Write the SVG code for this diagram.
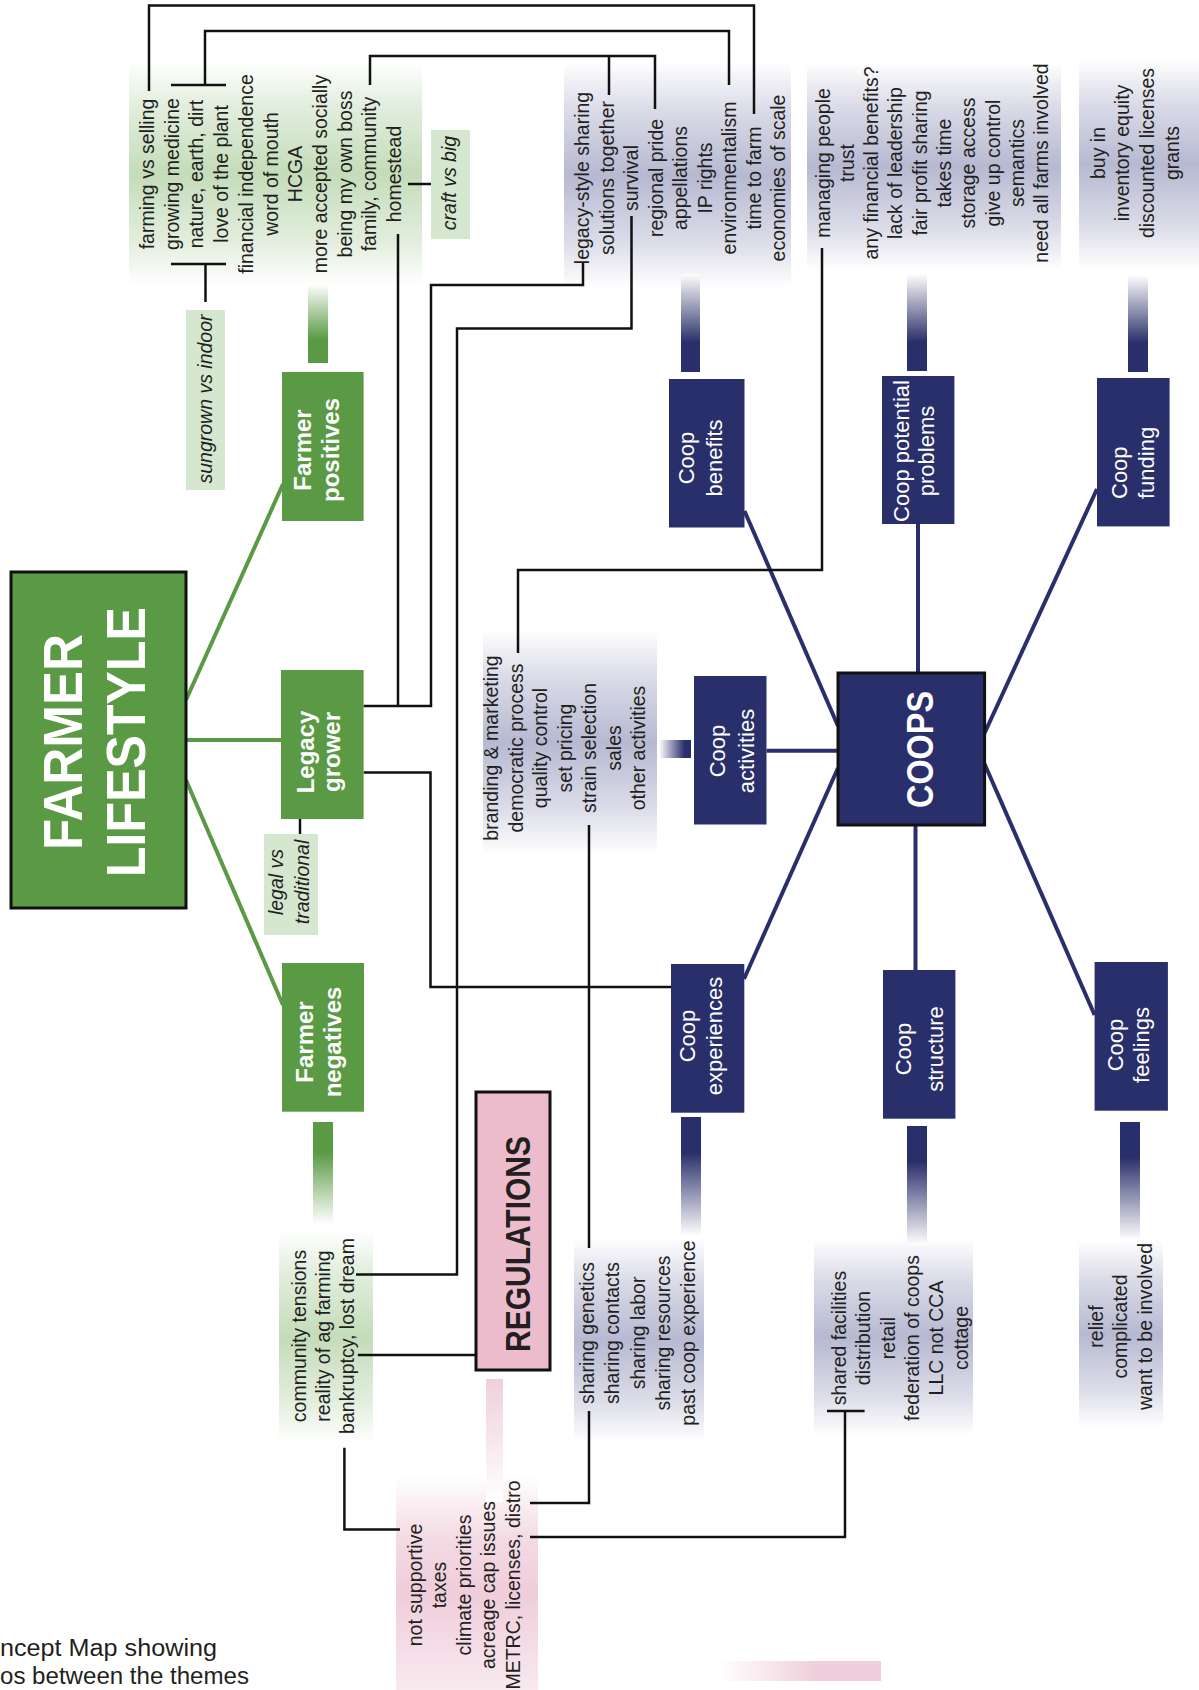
<svg xmlns="http://www.w3.org/2000/svg" width="1199" height="1690" viewBox="0 0 1199 1690">
<style>
.t{font-family:"Liberation Sans",Arial,sans-serif;font-size:19.5px;fill:#231f20;text-anchor:middle}
.it{font-style:italic}
.bx{font-family:"Liberation Sans",Arial,sans-serif;font-size:22px;fill:#ffffff;text-anchor:middle}
.bb{font-family:"Liberation Sans",Arial,sans-serif;font-size:24px;font-weight:bold;fill:#ffffff;text-anchor:middle}
.ln{fill:none;stroke:#111111;stroke-width:2.5}
.gl{stroke:#5a9a45;stroke-width:4;fill:none}
.nl{stroke:#292f6b;stroke-width:4;fill:none}
.gbox{fill:#5a9a45}
.nbox{fill:#292f6b}
.lab{fill:#d6e7d0}
</style>
<defs>
<linearGradient id="gPanel" x1="0" y1="0" x2="0" y2="1">
<stop offset="0" stop-color="#ffffff"/><stop offset="0.2" stop-color="#e2eedd"/><stop offset="0.5" stop-color="#c4dcba"/><stop offset="0.8" stop-color="#e2eedd"/><stop offset="1" stop-color="#ffffff"/>
</linearGradient>
<linearGradient id="nPanel" x1="0" y1="0" x2="0" y2="1">
<stop offset="0" stop-color="#ffffff"/><stop offset="0.2" stop-color="#dcdde9"/><stop offset="0.5" stop-color="#b6b9d1"/><stop offset="0.8" stop-color="#dcdde9"/><stop offset="1" stop-color="#ffffff"/>
</linearGradient>
<linearGradient id="pPanel" x1="0" y1="0" x2="0" y2="1">
<stop offset="0" stop-color="#ffffff"/><stop offset="0.3" stop-color="#f3dae3"/><stop offset="0.55" stop-color="#efcddb"/><stop offset="1" stop-color="#f8e9ef"/>
</linearGradient>
<linearGradient id="gUp" x1="0" y1="0" x2="0" y2="1">
<stop offset="0" stop-color="#ffffff"/><stop offset="0.7" stop-color="#5a9a45"/><stop offset="1" stop-color="#5a9a45"/>
</linearGradient>
<linearGradient id="gDown" x1="0" y1="0" x2="0" y2="1">
<stop offset="0" stop-color="#5a9a45"/><stop offset="0.3" stop-color="#5a9a45"/><stop offset="1" stop-color="#ffffff"/>
</linearGradient>
<linearGradient id="nUp" x1="0" y1="0" x2="0" y2="1">
<stop offset="0" stop-color="#ffffff"/><stop offset="0.7" stop-color="#292f6b"/><stop offset="1" stop-color="#292f6b"/>
</linearGradient>
<linearGradient id="nDown" x1="0" y1="0" x2="0" y2="1">
<stop offset="0" stop-color="#292f6b"/><stop offset="0.3" stop-color="#292f6b"/><stop offset="1" stop-color="#ffffff"/>
</linearGradient>
<linearGradient id="nRight" x1="0" y1="0" x2="1" y2="0">
<stop offset="0" stop-color="#ffffff"/><stop offset="0.8" stop-color="#292f6b"/><stop offset="1" stop-color="#292f6b"/>
</linearGradient>
<linearGradient id="pDown" x1="0" y1="0" x2="0" y2="1">
<stop offset="0" stop-color="#efcfdb"/><stop offset="1" stop-color="#ffffff"/>
</linearGradient>
<linearGradient id="pRight" x1="0" y1="0" x2="1" y2="0">
<stop offset="0" stop-color="#ffffff"/><stop offset="0.6" stop-color="#efcfdb"/><stop offset="1" stop-color="#efcfdb"/>
</linearGradient>
</defs>

<!-- panels and bars -->
<g id="panels">
<rect x="129" y="61" width="293" height="225" fill="url(#gPanel)"/>
<rect x="279" y="1230" width="94" height="214" fill="url(#gPanel)"/>
<rect x="564" y="62" width="227" height="226" fill="url(#nPanel)"/>
<rect x="807" y="62" width="254" height="209" fill="url(#nPanel)"/>
<rect x="1079" y="59" width="120" height="211" fill="url(#nPanel)"/>
<rect x="483" y="630" width="174" height="224" fill="url(#nPanel)"/>
<rect x="574" y="1238" width="130" height="204" fill="url(#nPanel)"/>
<rect x="814" y="1238" width="159" height="198" fill="url(#nPanel)"/>
<rect x="1079" y="1240" width="84" height="188" fill="url(#nPanel)"/>
<rect x="396" y="1475" width="142" height="215" fill="url(#pPanel)"/>
<rect x="308" y="284" width="20" height="79" fill="url(#gUp)"/>
<rect x="313" y="1122" width="20" height="102" fill="url(#gDown)"/>
<rect x="681" y="274" width="19" height="98" fill="url(#nUp)"/>
<rect x="907" y="274" width="20" height="97" fill="url(#nUp)"/>
<rect x="1128" y="275" width="20" height="97" fill="url(#nUp)"/>
<rect x="659" y="740" width="32" height="18" fill="url(#nRight)"/>
<rect x="681" y="1117" width="20" height="119" fill="url(#nDown)"/>
<rect x="907" y="1126" width="20" height="119" fill="url(#nDown)"/>
<rect x="1120" y="1122" width="20" height="118" fill="url(#nDown)"/>
<rect x="486" y="1379" width="17" height="123" fill="url(#pDown)"/>
<rect x="720" y="1661" width="161" height="20" fill="url(#pRight)"/>
</g>

<!-- connectors -->
<g id="connectors">
<line class="gl" x1="186" y1="700" x2="283" y2="484"/>
<line class="gl" x1="186" y1="740" x2="282" y2="740"/>
<line class="gl" x1="186" y1="780" x2="283" y2="1005"/>
<line class="nl" x1="838" y1="726" x2="744.5" y2="511"/>
<line class="nl" x1="918" y1="524" x2="918" y2="673"/>
<line class="nl" x1="984.6" y1="733" x2="1097" y2="489"/>
<line class="nl" x1="766.5" y1="750.7" x2="838" y2="750.7"/>
<line class="nl" x1="838" y1="768" x2="744" y2="979"/>
<line class="nl" x1="915.5" y1="825" x2="915.5" y2="970"/>
<line class="nl" x1="984.6" y1="764" x2="1094.6" y2="1015"/>
<polyline class="ln" points="149,91 149,5.5 754,5.5 754,114"/>
<polyline class="ln" points="205,85 205,31 729,31 729,85"/>
<line class="ln" x1="171" y1="85" x2="226" y2="85"/>
<line class="ln" x1="171" y1="264" x2="226" y2="264"/>
<line class="ln" x1="205.5" y1="264" x2="205.5" y2="302"/>
<polyline class="ln" points="370,85 370,56 655,56 655,109"/>
<line class="ln" x1="609" y1="56" x2="609" y2="95"/>
<line class="ln" x1="398" y1="234" x2="398" y2="706"/>
<line class="ln" x1="408" y1="184" x2="431" y2="184"/>
<polyline class="ln" points="363.6,706 431,706 431,285 583,285 583,262"/>
<polyline class="ln" points="363.6,772.5 430.5,772.5 430.5,987 671,987"/>
<polyline class="ln" points="631.5,216 631.5,328.6 457,328.6 457,1274.6 356,1274.6"/>
<line class="ln" x1="357.8" y1="1355" x2="476" y2="1355"/>
<polyline class="ln" points="344.4,1447.7 344.4,1529.4 400,1529.4"/>
<polyline class="ln" points="822,248 822,570 518,570 518,653"/>
<line class="ln" x1="589" y1="825" x2="589" y2="1248"/>
<polyline class="ln" points="589,1411 589,1503 530,1503"/>
<polyline class="ln" points="530,1537 845,1537 845,1411"/>
<line class="ln" x1="827" y1="1411" x2="864.6" y2="1411"/>
<line class="ln" x1="300" y1="819" x2="300" y2="834"/>
</g>

<!-- main nodes -->
<g id="farmer-lifestyle">
<rect x="11" y="572" width="175" height="336" class="gbox" stroke="#111" stroke-width="3"/>
<g transform="translate(0,742) rotate(-90)">
<text x="0" y="82" font-family="Liberation Sans, Arial, sans-serif" font-size="56" font-weight="bold" fill="#ffffff" text-anchor="middle" textLength="216" lengthAdjust="spacingAndGlyphs">FARMER</text>
<text x="0" y="145" font-family="Liberation Sans, Arial, sans-serif" font-size="56" font-weight="bold" fill="#ffffff" text-anchor="middle" textLength="270" lengthAdjust="spacingAndGlyphs">LIFESTYLE</text>
</g>
</g>

<g id="coops">
<rect x="838" y="673" width="146.6" height="152" class="nbox" stroke="#111" stroke-width="3"/>
<g transform="translate(0,749.5) rotate(-90)">
<text x="0" y="933" font-family="Liberation Sans, Arial, sans-serif" font-size="36" font-weight="bold" fill="#ffffff" text-anchor="middle" textLength="117" lengthAdjust="spacingAndGlyphs">COOPS</text>
</g>
</g>

<g id="regulations">
<rect x="476" y="1092" width="74" height="278" fill="#ecbccd" stroke="#111" stroke-width="3"/>
<g transform="translate(0,1244) rotate(-90)">
<text x="0" y="530" font-family="Liberation Sans, Arial, sans-serif" font-size="35" font-weight="bold" fill="#231f20" text-anchor="middle" textLength="216" lengthAdjust="spacingAndGlyphs">REGULATIONS</text>
</g>
</g>

<!-- green nodes -->
<g id="farmer-positives">
<rect x="282" y="372" width="81.6" height="149" class="gbox"/>
<g transform="translate(0,450) rotate(-90)"><text class="bb" x="0" y="311">Farmer</text><text class="bb" x="0" y="339">positives</text></g>
</g>
<g id="legacy-grower">
<rect x="281" y="670" width="82.6" height="149" class="gbox"/>
<g transform="translate(0,752) rotate(-90)"><text class="bb" x="0" y="314">Legacy</text><text class="bb" x="0" y="340">grower</text></g>
</g>
<g id="farmer-negatives">
<rect x="282" y="963" width="82" height="148.7" class="gbox"/>
<g transform="translate(0,1042) rotate(-90)"><text class="bb" x="0" y="313">Farmer</text><text class="bb" x="0" y="341">negatives</text></g>
</g>

<!-- navy nodes -->
<g id="coop-benefits">
<rect x="669" y="379" width="75.5" height="148.5" class="nbox"/>
<g transform="translate(0,458) rotate(-90)"><text class="bx" x="0" y="694">Coop</text><text class="bx" x="0" y="722">benefits</text></g>
</g>
<g id="coop-potential-problems">
<rect x="882" y="376" width="72.4" height="148" class="nbox"/>
<g transform="translate(0,451) rotate(-90)"><text class="bx" x="0" y="909">Coop potential</text><text class="bx" x="0" y="934">problems</text></g>
</g>
<g id="coop-funding">
<rect x="1097" y="378" width="72.6" height="148.4" class="nbox"/>
<g transform="translate(0,499) rotate(-90)"><text class="bx" x="0" y="1127" text-anchor="start" style="text-anchor:start">Coop</text><text class="bx" x="0" y="1153.5" style="text-anchor:start">funding</text></g>
</g>
<g id="coop-activities">
<rect x="694" y="676" width="72.5" height="148.5" class="nbox"/>
<g transform="translate(0,751) rotate(-90)"><text class="bx" x="0" y="725">Coop</text><text class="bx" x="0" y="754">activities</text></g>
</g>
<g id="coop-experiences">
<rect x="671" y="964" width="73.3" height="148.7" class="nbox"/>
<g transform="translate(0,1036) rotate(-90)"><text class="bx" x="0" y="695">Coop</text><text class="bx" x="0" y="722">experiences</text></g>
</g>
<g id="coop-structure">
<rect x="883" y="970" width="72.4" height="148.7" class="nbox"/>
<g transform="translate(0,1049) rotate(-90)"><text class="bx" x="0" y="911">Coop</text><text class="bx" x="0" y="943">structure</text></g>
</g>
<g id="coop-feelings">
<rect x="1094.6" y="962" width="73.3" height="148.7" class="nbox"/>
<g transform="translate(0,1045) rotate(-90)"><text class="bx" x="0" y="1123">Coop</text><text class="bx" x="0" y="1149">feelings</text></g>
</g>

<!-- label boxes -->
<g id="sungrown-vs-indoor">
<rect x="186" y="310" width="39" height="180" class="lab"/>
<g transform="translate(0,399) rotate(-90)"><text class="t it" x="0" y="211.5">sungrown vs indoor</text></g>
</g>
<g id="craft-vs-big">
<rect x="431" y="130" width="39" height="109" class="lab"/>
<g transform="translate(0,183) rotate(-90)"><text class="t it" x="0" y="456">craft vs big</text></g>
</g>
<g id="legal-vs-traditional">
<rect x="264" y="834" width="54" height="101" class="lab"/>
<g transform="translate(0,882) rotate(-90)"><text class="t it" x="0" y="282.5">legal vs</text><text class="t it" x="0" y="308.5">traditional</text></g>
</g>

<!-- text panels -->
<g id="positives-list">
<g transform="translate(0,174) rotate(-90)">
<text class="t" x="0" y="154">farming vs selling</text>
<text class="t" x="0" y="178.7">growing medicine</text>
<text class="t" x="0" y="203.4">nature, earth, dirt</text>
<text class="t" x="0" y="228.1">love of the plant</text>
<text class="t" x="0" y="252.8">financial independence</text>
<text class="t" x="0" y="277.5">word of mouth</text>
<text class="t" x="0" y="302.2">HCGA</text>
<text class="t" x="0" y="326.9">more accepted socially</text>
<text class="t" x="0" y="351.6">being my own boss</text>
<text class="t" x="0" y="376.3">family, community</text>
<text class="t" x="0" y="401">homestead</text>
</g>
</g>
<g id="negatives-list">
<g transform="translate(0,1336) rotate(-90)">
<text class="t" x="0" y="305.5">community tensions</text>
<text class="t" x="0" y="330">reality of ag farming</text>
<text class="t" x="0" y="354">bankruptcy, lost dream</text>
</g>
</g>
<g id="benefits-list">
<g transform="translate(0,178) rotate(-90)">
<text class="t" x="0" y="589">legacy-style sharing</text>
<text class="t" x="0" y="613.5">solutions together</text>
<text class="t" x="0" y="638">survival</text>
<text class="t" x="0" y="662.5">regional pride</text>
<text class="t" x="0" y="687">appellations</text>
<text class="t" x="0" y="711.5">IP rights</text>
<text class="t" x="0" y="736">environmentalism</text>
<text class="t" x="0" y="760.5">time to farm</text>
<text class="t" x="0" y="785">economies of scale</text>
</g>
</g>
<g id="problems-list">
<g transform="translate(0,163) rotate(-90)">
<text class="t" x="0" y="829.5">managing people</text>
<text class="t" x="0" y="853.8">trust</text>
<text class="t" x="0" y="878.1">any financial benefits?</text>
<text class="t" x="0" y="902.4">lack of leadership</text>
<text class="t" x="0" y="926.7">fair profit sharing</text>
<text class="t" x="0" y="951">takes time</text>
<text class="t" x="0" y="975.3">storage access</text>
<text class="t" x="0" y="999.6">give up control</text>
<text class="t" x="0" y="1023.9">semantics</text>
<text class="t" x="0" y="1048.2">need all farms involved</text>
</g>
</g>
<g id="funding-list">
<g transform="translate(0,153) rotate(-90)">
<text class="t" x="0" y="1104.5">buy in</text>
<text class="t" x="0" y="1129.3">inventory equity</text>
<text class="t" x="0" y="1154.1">discounted licenses</text>
<text class="t" x="0" y="1179">grants</text>
</g>
</g>
<g id="activities-list">
<g transform="translate(0,748) rotate(-90)">
<text class="t" x="0" y="498">branding &amp; marketing</text>
<text class="t" x="0" y="522.5">democratic process</text>
<text class="t" x="0" y="547">quality control</text>
<text class="t" x="0" y="571.5">set pricing</text>
<text class="t" x="0" y="596">strain selection</text>
<text class="t" x="0" y="620.5">sales</text>
<text class="t" x="0" y="645">other activities</text>
</g>
</g>
<g id="experiences-list">
<g transform="translate(0,1333) rotate(-90)">
<text class="t" x="0" y="594">sharing genetics</text>
<text class="t" x="0" y="619">sharing contacts</text>
<text class="t" x="0" y="644.5">sharing labor</text>
<text class="t" x="0" y="670">sharing resources</text>
<text class="t" x="0" y="695">past coop experience</text>
</g>
</g>
<g id="structure-list">
<g transform="translate(0,1338) rotate(-90)">
<text class="t" x="0" y="846">shared facilities</text>
<text class="t" x="0" y="870.3">distribution</text>
<text class="t" x="0" y="894.6">retail</text>
<text class="t" x="0" y="918.9">federation of coops</text>
<text class="t" x="0" y="943.2">LLC not CCA</text>
<text class="t" x="0" y="967.5">cottage</text>
</g>
</g>
<g id="feelings-list">
<g transform="translate(0,1326.5) rotate(-90)">
<text class="t" x="0" y="1102.5">relief</text>
<text class="t" x="0" y="1127">complicated</text>
<text class="t" x="0" y="1151.5">want to be involved</text>
</g>
</g>
<g id="regulations-list">
<g transform="translate(0,1585) rotate(-90)">
<text class="t" x="0" y="421.5">not supportive</text>
<text class="t" x="0" y="446">taxes</text>
<text class="t" x="0" y="470.5">climate priorities</text>
<text class="t" x="0" y="495">acreage cap issues</text>
<text class="t" x="0" y="519.5">METRC, licenses, distro</text>
</g>
</g>

<g id="caption">
<text x="0" y="1656" font-family="Liberation Sans, Arial, sans-serif" font-size="23" fill="#231f20" textLength="217" lengthAdjust="spacingAndGlyphs">ncept Map showing</text>
<text x="0" y="1684" font-family="Liberation Sans, Arial, sans-serif" font-size="23" fill="#231f20" textLength="249" lengthAdjust="spacingAndGlyphs">os between the themes</text>
</g>
</svg>
